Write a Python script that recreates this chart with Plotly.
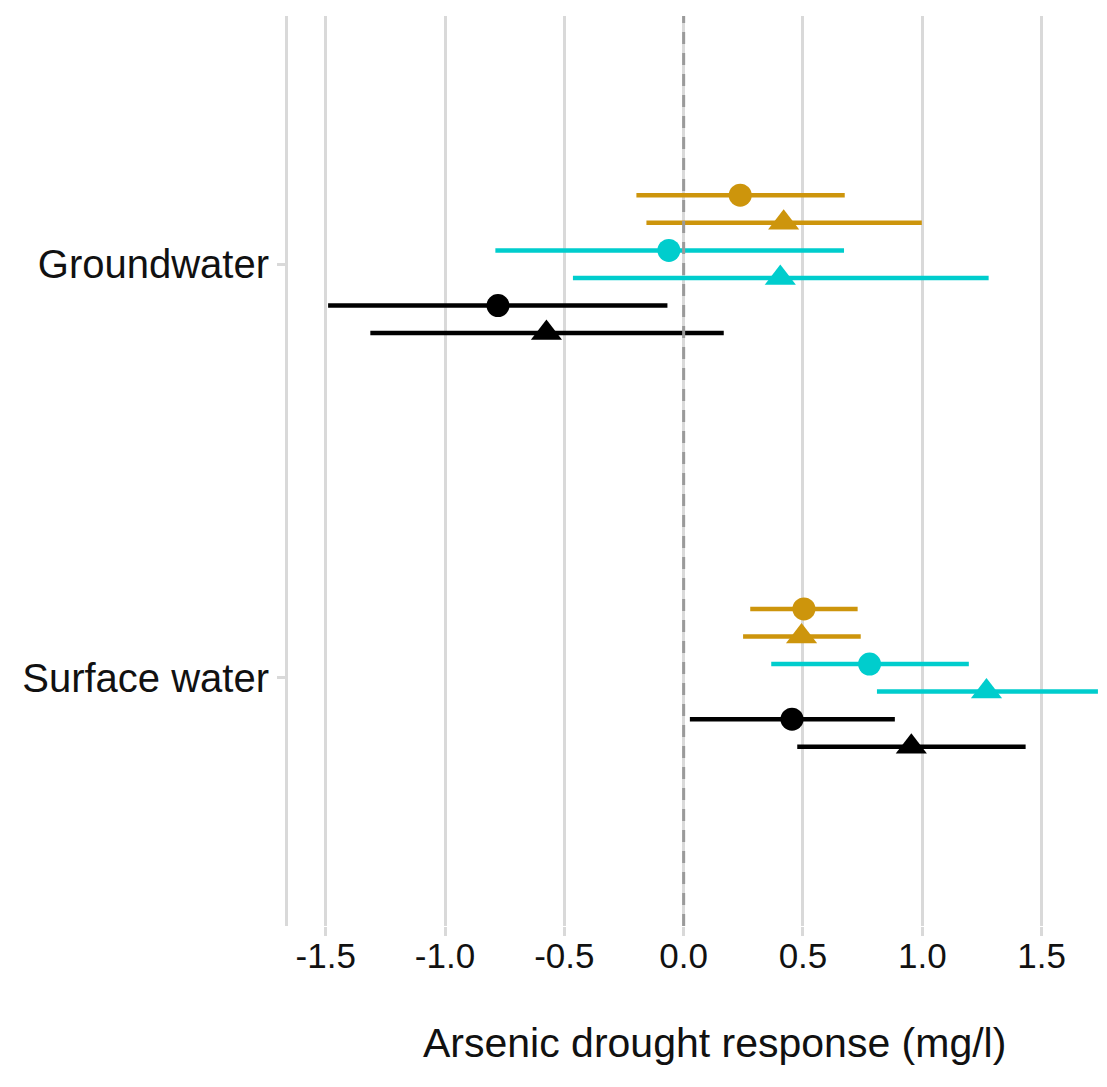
import plotly.graph_objects as go

# Water source categories and their positions on the y axis
groups = ["Groundwater", "Surface water"]
group_pos = [2, 1]

# Six estimate series, drawn top to bottom within each category
series_names = ["gold circle", "gold triangle", "cyan circle",
                "cyan triangle", "black circle", "black triangle"]
series_colors = ["#CD950C", "#CD950C", "#00CDCD", "#00CDCD", "#000000", "#000000"]
series_symbols = ["circle", "triangle-up", "circle", "triangle-up", "circle", "triangle-up"]

# Point estimates, [Groundwater, Surface water]
gold_circle_est = [0.237, 0.504]
gold_triangle_est = [0.419, 0.494]
cyan_circle_est = [-0.062, 0.779]
cyan_triangle_est = [0.405, 1.269]
black_circle_est = [-0.778, 0.454]
black_triangle_est = [-0.575, 0.954]

# Lower interval bounds
gold_circle_lo = [-0.198, 0.279]
gold_triangle_lo = [-0.156, 0.249]
cyan_circle_lo = [-0.789, 0.367]
cyan_triangle_lo = [-0.464, 0.810]
black_circle_lo = [-1.490, 0.026]
black_triangle_lo = [-1.313, 0.476]

# Upper interval bounds
gold_circle_hi = [0.675, 0.729]
gold_triangle_hi = [0.998, 0.742]
cyan_circle_hi = [0.672, 1.195]
cyan_triangle_hi = [1.278, 1.736]
black_circle_hi = [-0.068, 0.885]
black_triangle_hi = [0.168, 1.433]

# x-axis ticks
x_ticks = [-1.5, -1.0, -0.5, 0.0, 0.5, 1.0, 1.5]
x_tick_labels = ["-1.5", "-1.0", "-0.5", "0.0", "0.5", "1.0", "1.5"]

estimates = [gold_circle_est, gold_triangle_est, cyan_circle_est,
             cyan_triangle_est, black_circle_est, black_triangle_est]
lowers = [gold_circle_lo, gold_triangle_lo, cyan_circle_lo,
          cyan_triangle_lo, black_circle_lo, black_triangle_lo]
uppers = [gold_circle_hi, gold_triangle_hi, cyan_circle_hi,
          cyan_triangle_hi, black_circle_hi, black_triangle_hi]

# Dodge the series vertically around each category position
dodge_width = 0.4
n = len(series_names)
step = dodge_width / n

fig = go.Figure()
for i in range(n):
    offset = ((n - 1) / 2 - i) * step
    ys = [p + offset for p in group_pos]
    est = estimates[i]
    plus = [h - e for h, e in zip(uppers[i], est)]
    minus = [e - l for e, l in zip(est, lowers[i])]
    is_tri = series_symbols[i] == "triangle-up"
    fig.add_trace(go.Scatter(
        x=est, y=ys, mode="markers", name=series_names[i],
        marker=dict(symbol=series_symbols[i], color=series_colors[i],
                    size=27 if is_tri else 23, line=dict(width=0)),
        error_x=dict(type="data", symmetric=False, array=plus, arrayminus=minus,
                     width=0, thickness=4.5, color=series_colors[i]),
        showlegend=False, hoverinfo="x+y",
    ))

# Dashed reference line at zero response, drawn over the grid and the bars
fig.add_shape(type="line", xref="x", yref="paper", x0=0, x1=0, y0=0, y1=1,
              line=dict(color="#9A9A9A", width=3, dash="12px,9px"), layer="above")

# Axis title, centred under the full panel width
fig.add_annotation(text="Arsenic drought response (mg/l)", xref="paper", yref="paper",
                   x=0.521, y=-0.129, xanchor="center", yanchor="middle",
                   showarrow=False, font=dict(size=41, color="#111111"))

fig.update_layout(
    width=1107, height=1087,
    margin=dict(l=288, r=0, t=16, b=161),
    plot_bgcolor="white", paper_bgcolor="white",
    font=dict(family="Liberation Sans, Arial, sans-serif", color="black"),
    xaxis=dict(
        range=[-1.658, 1.774], tickvals=x_ticks, ticktext=x_tick_labels,
        showgrid=True, gridcolor="#D9D9D9", gridwidth=3,
        zeroline=False, showline=False,
        ticks="outside", ticklen=9, tickwidth=3, tickcolor="#D9D9D9",
        tickfont=dict(size=35, color="#111111"), ticklabelstandoff=-10,
    ),
    yaxis=dict(
        range=[0.4, 2.6], tickvals=group_pos, ticktext=groups,
        showgrid=False, zeroline=False,
        showline=True, linecolor="#D9D9D9", linewidth=3,
        ticks="outside", ticklen=8, tickwidth=3, tickcolor="#D9D9D9",
        tickfont=dict(size=40, color="#111111"),
    ),
)

fig.write_html("out.html")
